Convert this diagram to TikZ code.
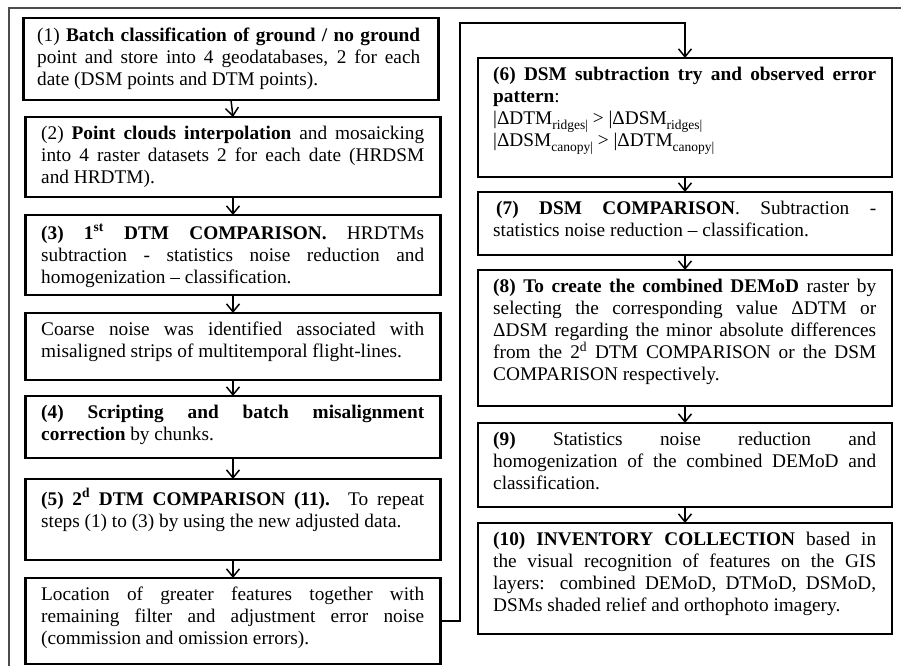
\documentclass[tikz,border=0pt]{standalone}
\usepackage{fontspec}
\setmainfont{Liberation Serif}
\usetikzlibrary{arrows.meta}
\newcommand\lowsub[1]{\raisebox{-5pt}{\fontsize{13.5}{13.5}\selectfont #1}}
\begin{document}
\begin{tikzpicture}[x=1pt,y=-1pt,
  box/.style={draw=black, line width=2.8pt, rectangle, inner sep=0pt, outer sep=0pt},
  txt/.style={anchor=north west, inner sep=0pt, text width=383pt, align=justify,
    font={\fontsize{19.3}{22}\selectfont\parindent=0pt\tolerance=10000\hyphenpenalty=10000\exhyphenpenalty=10000}},
  arr/.style={draw=black, line width=1.5pt, -{Straight Barb[length=8pt,width=13pt,line width=1.5pt]}},
  frame/.style={draw=black!70, line width=1.3pt}]
\useasboundingbox (0,0) rectangle (901,666);
% outer frame (partly visible)
\draw[frame] (901,8) -- (9,8) -- (9,666);
% left column boxes
\node[box, minimum width=415pt, minimum height=82pt] (L1) at (231,59) {};
\node[box, minimum width=415pt, minimum height=80pt] (L2) at (233,157) {};
\node[box, minimum width=415pt, minimum height=80pt] (L3) at (233,255) {};
\node[box, minimum width=415pt, minimum height=67pt] (L4) at (233,346.5) {};
\node[box, minimum width=415pt, minimum height=62pt] (L5) at (233,427) {};
\node[box, minimum width=415pt, minimum height=81pt] (L6) at (233,519.5) {};
\node[box, minimum width=415pt, minimum height=86pt] (L7) at (233,621) {};
% right column boxes
\node[box, minimum width=414pt, minimum height=119pt] (R6) at (685,117.5) {};
\node[box, minimum width=414pt, minimum height=63pt] (R7) at (685,223.5) {};
\node[box, minimum width=414pt, minimum height=136pt] (R8) at (685,338) {};
\node[box, minimum width=414pt, minimum height=84pt] (R9) at (685,465) {};
\node[box, minimum width=414pt, minimum height=111pt] (R10) at (685,578.5) {};
% texts
\node[txt] (T1) at (37,28) {(1) \textbf{Batch classification of ground / no ground}\linebreak point and store into 4 geodatabases, 2 for each\linebreak date (DSM points and DTM points).};
\node[txt] (T2) at (41,126) {(2) \textbf{Point clouds interpolation} and mosaicking\linebreak into 4 raster datasets 2 for each date (HRDSM\linebreak and HRDTM).};
\node[txt] (T3) at (41,224) {\textbf{(3) 1\textsuperscript{st} DTM COMPARISON.} HRDTMs\linebreak subtraction - statistics noise reduction and\linebreak homogenization -- classification.};
\node[txt] (T4) at (41,322) {Coarse noise was identified associated with\linebreak misaligned strips of multitemporal flight-lines.};
\node[txt] (T5) at (41,405) {\textbf{(4) Scripting and batch misalignment\linebreak correction} by chunks.};
\node[txt] (T6) at (41,488) {\textbf{(5) 2\textsuperscript{d} DTM COMPARISON (11).} To repeat\linebreak steps (1) to (3) by using the new adjusted data.};
\node[txt] (T7) at (41,587) {Location of greater features together with\linebreak remaining filter and adjustment error noise\linebreak (commission and omission errors).};
\node[txt] (T8) at (493,67) {\textbf{(6) DSM subtraction try and observed error\linebreak pattern}:\\
|ΔDTM\lowsub{ridges|} > |ΔDSM\lowsub{ridges|}\\
|ΔDSM\lowsub{canopy|} > |ΔDTM\lowsub{canopy|}};
\node[txt] (T9) at (493,201) {\hspace*{3pt}\textbf{(7) DSM COMPARISON}. Subtraction -\linebreak statistics noise reduction -- classification.};
\node[txt] (T10) at (493,279) {\textbf{(8) To create the combined DEMoD} raster by\linebreak selecting the corresponding value ΔDTM or\linebreak ΔDSM regarding the minor absolute differences\linebreak from the 2\textsuperscript{d} DTM COMPARISON or the DSM\linebreak COMPARISON respectively.};
\node[txt] (T11) at (493,432) {\textbf{(9)} Statistics noise reduction and\linebreak homogenization of the combined DEMoD and\linebreak classification.};
\node[txt] (T12) at (493,532) {\textbf{(10) INVENTORY COLLECTION} based in\linebreak the visual recognition of features on the GIS\linebreak layers: combined DEMoD, DTMoD, DSMoD,\linebreak DSMs shaded relief and orthophoto imagery.};
% arrows
\draw[arr] (L1.south) -- (L2.north);
\draw[arr] (L2.south) -- (L3.north);
\draw[arr] (L3.south) -- (L4.north);
\draw[arr] (L4.south) -- (L5.north);
\draw[arr] (L5.south) -- (L6.north);
\draw[arr] (L6.south) -- (L7.north);
\draw[arr] (R6.south) -- (R7.north);
\draw[arr] (R7.south) -- (R8.north);
\draw[arr] (R8.south) -- (R9.north);
\draw[arr] (R9.south) -- (R10.north);
% feedback connector
\coordinate (C1) at (460,23);
\draw[arr] (L7.east) -| (C1) -| (R6.north);
\end{tikzpicture}
\end{document}
